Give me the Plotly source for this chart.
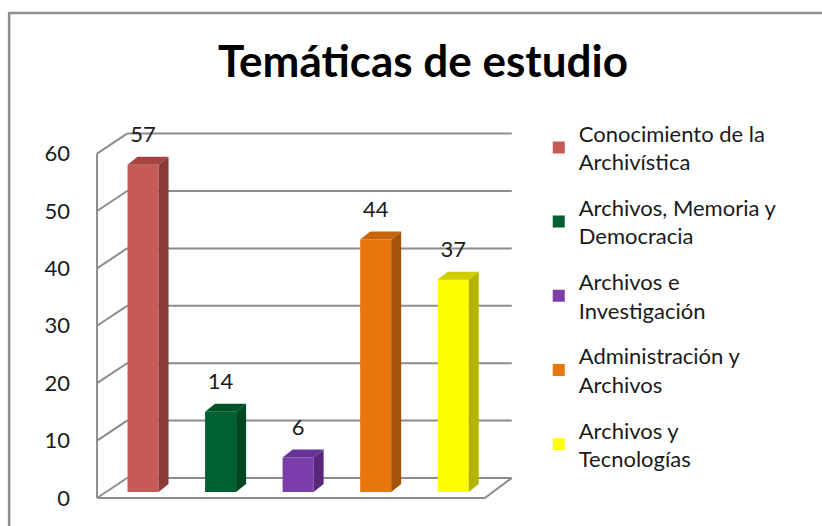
import plotly.graph_objects as go

# ---------------- data ----------------
categories = [
    "Conocimiento de la<br>Archivística",
    "Archivos, Memoria y<br>Democracia",
    "Archivos e<br>Investigación",
    "Administración y<br>Archivos",
    "Archivos y<br>Tecnologías",
]
values = [57, 14, 6, 44, 37]
tick_labels = [0, 10, 20, 30, 40, 50, 60]
title_text = "Temáticas de estudio"

# ---------------- styles ----------------
front_colors = ["#C55A57", "#00602F", "#7A3DAA", "#E9760D", "#FFFF00"]
side_colors = ["#8A3B39", "#00471F", "#56287A", "#A65209", "#B3B300"]
top_colors = ["#A6443F", "#005327", "#69329A", "#C8650B", "#CDCD00"]
grid_color = "#8C8C8C"
FONT = "Lato"

W, H = 822, 526
X0_PX, X_UNIT = 143.0, 77.6     # pixel of x=0, pixels per category
Y0_PX, Y_UNIT = 492.0, 5.745    # pixel of y=0, pixels per unit
x_range = [-0.8, 4.9]
y_range = [-4, 66.2]
ml = X0_PX + X_UNIT * x_range[0]
mr = W - (X0_PX + X_UNIT * x_range[1])
mt = Y0_PX - Y_UNIT * y_range[1]
mb = H - (Y0_PX - Y_UNIT * y_range[0])
plot_w = W - ml - mr
plot_h = H - mt - mb

# pseudo-3D geometry (data units)
BAR_W = 0.4
SIDE_DX = 0.129
TOP_DY = 1.39
FRONT_Y0 = -1.04
WALL_DX = 0.387
WALL_DY = 3.48
FRONT_X = -0.593
BACK_RIGHT = 4.755
FRONT_RIGHT = 4.407
LABEL_DY = 3.5

fig = go.Figure()

# front faces (bars)
for i, (cat, v) in enumerate(zip(categories, values)):
    fig.add_trace(go.Bar(
        x=[i], y=[v], width=BAR_W, name=cat,
        marker=dict(color=front_colors[i], line=dict(width=0)),
        legendgroup=f"g{i}", hoverinfo="skip",
    ))

# side and top faces
for i, v in enumerate(values):
    r = i + BAR_W / 2
    l = i - BAR_W / 2
    fig.add_trace(go.Scatter(
        x=[r, r + SIDE_DX, r + SIDE_DX, r, r],
        y=[0, TOP_DY, v + TOP_DY, v, 0],
        fill="toself", fillcolor=side_colors[i], mode="lines",
        line=dict(width=0, color=side_colors[i]),
        showlegend=False, hoverinfo="skip",
    ))
    fig.add_trace(go.Scatter(
        x=[l, r, r + SIDE_DX, l + SIDE_DX, l],
        y=[v, v, v + TOP_DY, v + TOP_DY, v],
        fill="toself", fillcolor=top_colors[i], mode="lines",
        line=dict(width=0, color=top_colors[i]),
        showlegend=False, hoverinfo="skip",
    ))

# data labels
fig.add_trace(go.Scatter(
    x=list(range(len(values))),
    y=[v + TOP_DY + LABEL_DY for v in values],
    text=[str(v) for v in values],
    mode="text", textposition="middle center",
    textfont=dict(family=FONT, size=22, color="#1a1a1a"),
    showlegend=False, hoverinfo="skip", cliponaxis=False,
))

# walls / grid
shapes = []
line_style = dict(color=grid_color, width=2)
for v in tick_labels:
    fy = v + FRONT_Y0
    by = fy + WALL_DY
    shapes.append(dict(type="line", xref="x", yref="y", layer="below",
                       x0=FRONT_X + WALL_DX, y0=by, x1=BACK_RIGHT, y1=by, line=line_style))
    shapes.append(dict(type="line", xref="x", yref="y", layer="below",
                       x0=FRONT_X, y0=fy, x1=FRONT_X + WALL_DX, y1=by, line=line_style))
shapes.append(dict(type="line", xref="x", yref="y", layer="below",
                   x0=FRONT_X, y0=FRONT_Y0, x1=FRONT_X, y1=tick_labels[-1] + FRONT_Y0,
                   line=line_style))
shapes.append(dict(type="path", xref="x", yref="y", layer="below",
                   path=f"M{FRONT_X},{FRONT_Y0} L{FRONT_RIGHT},{FRONT_Y0} "
                        f"L{BACK_RIGHT},{FRONT_Y0 + WALL_DY}",
                   line=line_style))
# chart border
shapes.append(dict(type="rect", xref="paper", yref="paper", layer="above",
                   x0=(9 - ml) / plot_w, x1=2.0,
                   y0=-1.0, y1=(H - mb - 12.5) / plot_h,
                   line=dict(color="#8E8E8E", width=2.5)))

fig.update_layout(
    width=W, height=H,
    margin=dict(l=ml, r=mr, t=mt, b=mb, autoexpand=False),
    paper_bgcolor="white", plot_bgcolor="white",
    barmode="overlay",
    shapes=shapes,
    title=dict(text=title_text, x=423 / W, xanchor="center", xref="container",
               y=1 - 62 / H, yanchor="middle", yref="container",
               font=dict(family=FONT, size=44, color="black", weight="bold")),
    xaxis=dict(range=x_range, showgrid=False, zeroline=False, showline=False,
               showticklabels=False, ticks="", fixedrange=True),
    yaxis=dict(range=y_range, showgrid=False, zeroline=False, showline=False,
               tickvals=[v + FRONT_Y0 for v in tick_labels],
               ticktext=[str(v) for v in tick_labels],
               ticks="", ticklabelstandoff=10,
               tickfont=dict(family=FONT, size=22, color="#1a1a1a"), fixedrange=True),
    legend=dict(xref="paper", yref="paper",
                x=(539 - ml) / plot_w, y=min(1.0, (H - mb - 112) / plot_h),
                xanchor="left", yanchor="top",
                font=dict(family=FONT, size=22, color="#1a1a1a"),
                traceorder="grouped", tracegroupgap=14, itemwidth=30,
                bgcolor="rgba(0,0,0,0)"),
    showlegend=True,
)

fig.write_html("out.html", post_script="document.body.style.margin='0';",
               config={"displayModeBar": False})
